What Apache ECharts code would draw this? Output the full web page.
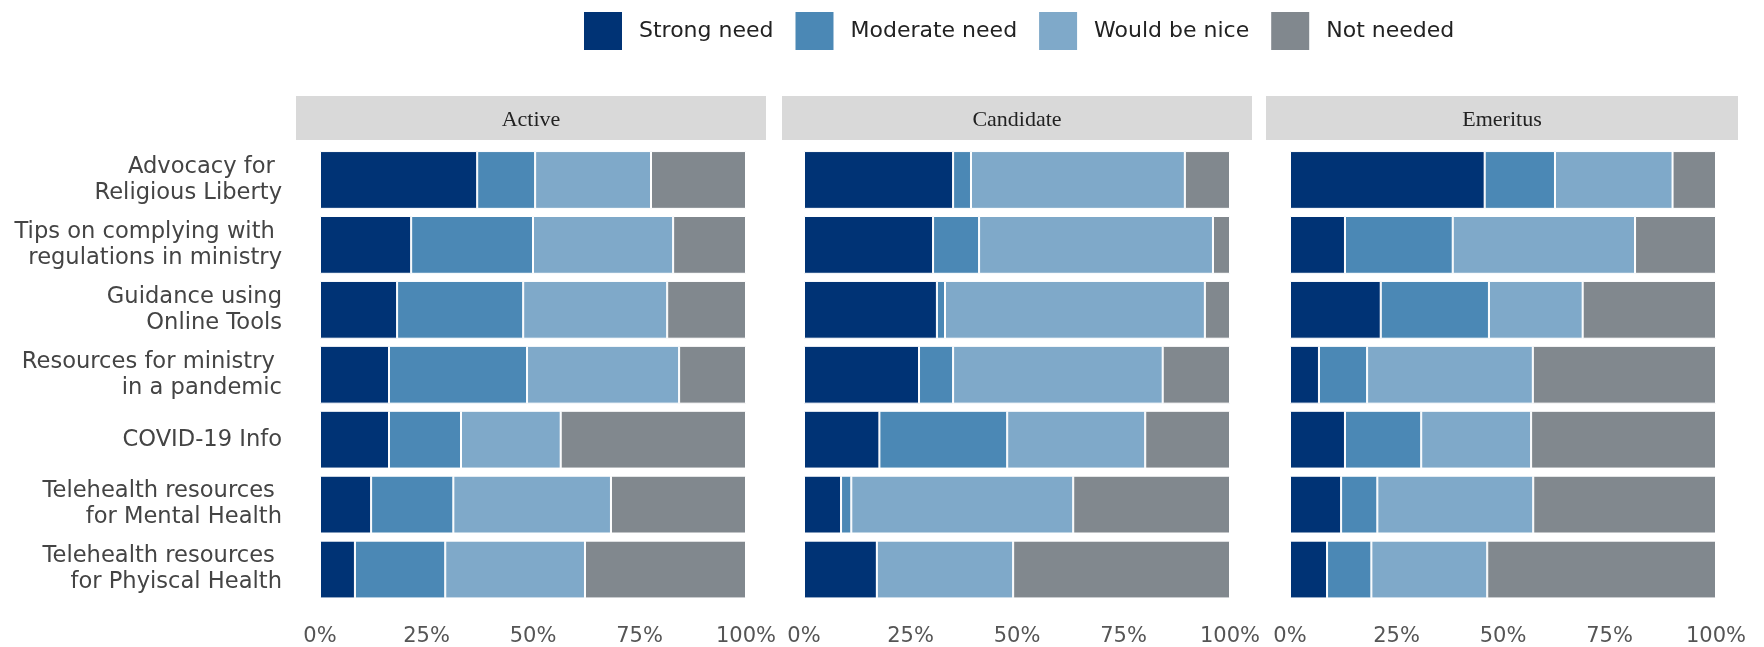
<!DOCTYPE html>
<html><head><meta charset="utf-8">
<script src="https://cdn.jsdelivr.net/npm/echarts@6/dist/echarts.min.js"></script>
<style>html,body{margin:0;padding:0;background:#fff}#c{width:1764px;height:647px}</style>
</head><body><div id="c"></div>
<script>
const categories = [
  'Advocacy for \nReligious Liberty',
  'Tips on complying with \nregulations in ministry',
  'Guidance using\nOnline Tools',
  'Resources for ministry \nin a pandemic',
  'COVID-19 Info',
  'Telehealth resources \nfor Mental Health',
  'Telehealth resources \nfor Phyiscal Health'
];
const panels = ['Active', 'Candidate', 'Emeritus'];
const levels = ['Strong need', 'Moderate need', 'Would be nice', 'Not needed'];
const levelColors = ['#003375', '#4b88b5', '#7fa9c9', '#81888e'];
const tickValues = [0, 25, 50, 75, 100];

const activeStrong   = [36.9, 21.4, 18.1, 16.2, 16.2, 12.0, 8.2];
const activeModerate = [13.6, 28.6, 29.6, 32.4, 16.9, 19.3, 21.2];
const activeNice     = [27.2, 32.9, 33.8, 35.7, 23.4, 37.0, 32.8];
const activeNot      = [22.3, 17.1, 18.5, 15.7, 43.5, 31.7, 37.8];

const candidateStrong   = [35.0, 30.3, 31.2, 27.0, 17.7, 8.7, 17.1];
const candidateModerate = [4.2, 10.8, 1.9, 8.0, 30.0, 2.4, 0];
const candidateNice     = [50.2, 54.9, 61.0, 49.2, 32.4, 52.1, 32.0];
const candidateNot      = [10.6, 4.0, 5.9, 15.8, 19.9, 36.8, 50.9];

const emeritusStrong   = [45.7, 12.9, 21.3, 6.8, 12.9, 12.0, 8.7];
const emeritusModerate = [16.5, 25.3, 25.4, 11.3, 17.9, 8.5, 10.4];
const emeritusNice     = [27.6, 42.8, 22.0, 38.9, 25.8, 36.6, 27.2];
const emeritusNot      = [10.2, 19.0, 31.3, 43.0, 43.4, 42.9, 53.7];

const panelData = [
  [activeStrong, activeModerate, activeNice, activeNot],
  [candidateStrong, candidateModerate, candidateNice, candidateNot],
  [emeritusStrong, emeritusModerate, emeritusNice, emeritusNot]
];

const gridLefts = [320, 804, 1290];
const gridWidth = 426;
const gridTop = 147.5, gridHeight = 455;
const stripX = [296, 782, 1266];
const stripW = [470, 470, 472];

const grids = [], xAxes = [], yAxes = [], series = [], graphics = [];
panels.forEach((p, i) => {
  grids.push({left: gridLefts[i], top: gridTop, width: gridWidth, height: gridHeight, containLabel: false});
  xAxes.push({
    type: 'value', gridIndex: i, min: tickValues[0], max: tickValues[tickValues.length - 1], interval: 25,
    axisLine: {show: false}, axisTick: {show: false}, splitLine: {show: false},
    axisLabel: {formatter: '{value}%', color: '#555', fontFamily: 'DejaVu Sans', fontSize: 21, margin: 24}
  });
  yAxes.push({
    type: 'category', gridIndex: i, data: categories, inverse: true,
    axisLine: {show: false}, axisTick: {show: false}, splitLine: {show: false},
    axisLabel: {show: i === 0, color: '#444', fontFamily: 'DejaVu Sans', fontSize: 22.6, lineHeight: 26, margin: 38, align: 'right'}
  });
  levels.forEach((lv, k) => {
    series.push({
      name: lv, type: 'bar', stack: 'p' + i, xAxisIndex: i, yAxisIndex: i,
      data: panelData[i][k], barCategoryGap: '11%',
      itemStyle: {color: levelColors[k], borderColor: '#ffffff', borderWidth: 1},
      emphasis: {disabled: true}
    });
  });
  graphics.push({
    type: 'rect', left: stripX[i], top: 96,
    shape: {width: stripW[i], height: 44},
    style: {fill: '#d9d9d9'}, silent: true
  });
  graphics.push({
    type: 'text', x: stripX[i] + stripW[i] / 2, y: 120,
    style: {text: p, fill: '#222', font: '22px "Liberation Serif"', textAlign: 'center', textVerticalAlign: 'middle'},
    silent: true
  });
});

const chart = echarts.init(document.getElementById('c'), null, {renderer: 'canvas'});
chart.setOption({
  animation: false,
  backgroundColor: '#ffffff',
  color: levelColors,
  legend: {
    data: levels, left: 582, top: 10, padding: 0, itemWidth: 40, itemHeight: 40, itemGap: 20,
    icon: 'rect',
    textStyle: {fontFamily: 'DejaVu Sans', fontSize: 22, color: '#222', padding: [0, 0, 0, 11]},
    selectedMode: false
  },
  grid: grids, xAxis: xAxes, yAxis: yAxes, series: series, graphic: graphics
});
</script>
</body></html>
